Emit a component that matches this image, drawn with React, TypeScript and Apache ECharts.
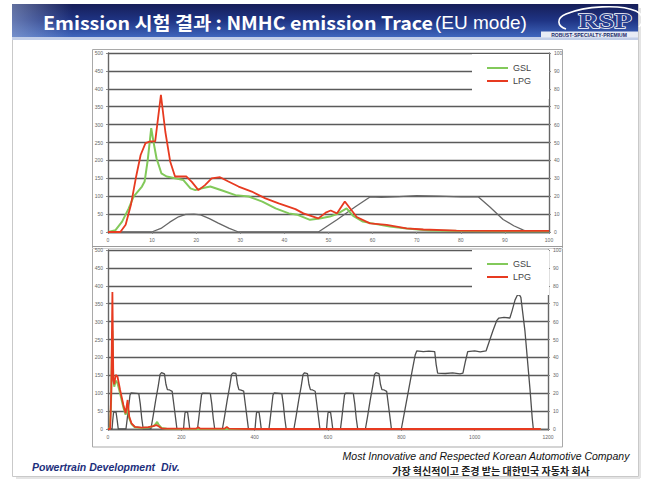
import React, { useEffect, useRef } from "react";
import * as echarts from "echarts";

// ---------- data ----------
// Top chart: first 100 s of the EU cycle. [time s, NMHC]
const TOP_GSL: [number, number][] = [
  [0, 0], [1.7, 5], [3.2, 29], [4.7, 66], [5.8, 99], [7.7, 127], [8.3, 141], [9.0, 200],
  [9.8, 290], [10.3, 253], [11, 206], [12.1, 164], [13.3, 155], [15.2, 150], [17.1, 145],
  [18.7, 122], [19.8, 117], [21.3, 122], [23.2, 127], [25.9, 116], [28.9, 103], [31.9, 99],
  [35, 85], [38, 66], [41, 52], [43, 48], [45.8, 34], [48, 38], [50.3, 43], [51.9, 50],
  [54.1, 66], [55.6, 45], [57.8, 29], [60.8, 22], [63.9, 15], [67.7, 10], [73, 4], [80, 3],
  [90, 2], [100, 2],
];
const TOP_LPG: [number, number][] = [
  [0, 0], [2.8, 0], [4, 20], [5.2, 76], [6.3, 150], [7.4, 215], [8.5, 248], [9.6, 253],
  [10.7, 253], [12, 383], [13, 280], [14.1, 197], [15.2, 155], [16.3, 155], [17.8, 155],
  [19, 140], [20.5, 117], [22, 131], [23.5, 150], [25.4, 153], [27.3, 141], [29.6, 127],
  [32.6, 113], [35.7, 94], [38.7, 80], [42.5, 64], [44.3, 52], [47.7, 38], [49.5, 55],
  [50.5, 60], [51.9, 52], [53.7, 85], [56.4, 42], [59.4, 24], [63.2, 20], [67.7, 10],
  [71.5, 7], [79, 4], [90, 3], [100, 3],
];
// vehicle speed (right axis)
const TOP_SPEED: [number, number][] = [
  [0, 0], [9.9, 0], [12, 2], [14, 5.5], [16, 8.5], [17.6, 9.8], [19.5, 10], [21, 9.6],
  [23, 7.5], [25, 5], [27.5, 2], [29.6, 0], [47.7, 0], [52, 7], [56, 14], [59.4, 19.6],
  [62, 19.4], [66, 19.8], [70, 20.3], [75, 20], [80, 19.6], [84, 19.6], [86.6, 14],
  [89.6, 7], [92, 3.5], [94.2, 1], [95.3, 0], [100, 0],
];

// Bottom chart: whole EU cycle (0 - 1180 s)
const BOTTOM_GSL: [number, number][] = [
  [0, 0], [5, 2], [8, 60], [10, 170], [12, 275], [14, 150], [17, 118], [21, 135], [26, 128],
  [33, 100], [42, 60], [48, 40], [53, 62], [58, 30], [64, 14], [73, 5], [92, 3], [110, 4],
  [124, 8], [130, 14], [134, 20], [138, 12], [146, 3], [160, 1], [200, 0], [1180, 0],
];
const BOTTOM_LPG: [number, number][] = [
  [0, 0], [6, 0], [9, 110], [12, 383], [14.5, 137], [17, 125], [21, 151], [26, 146],
  [33, 109], [42, 67], [48, 44], [53.5, 81], [58, 34], [64, 16], [73.5, 6], [92, 4],
  [110, 5], [123, 8], [132, 11], [140, 6], [146, 2], [160, 1], [240, 1], [246, 5], [252, 1],
  [318, 1], [324, 6], [330, 1], [400, 0], [1180, 0],
];
const BOTTOM_SPEED: [number, number][] = [
  [0, 0], [11, 0], [13, 5], [15, 9], [17, 9.6], [22, 9.3], [25, 5], [28, 0],
  [49, 0], [52, 5], [56, 12], [60, 19], [63, 20.2], [84, 19.8], [88, 14], [92, 6], [96, 0],
  [117, 0], [123, 7], [130, 16], [137, 24], [142, 30.5], [146, 31.5], [154, 30.8], [158, 25],
  [162, 22], [168, 21.8], [175, 21], [180, 13], [185, 5], [188, 0],
  [206, 0], [208, 5], [210, 9], [212, 9.5], [217, 9.4], [220, 5], [223, 0],
  [244, 0], [247, 5], [251, 12], [255, 19], [258, 20], [279, 19.9], [283, 14], [287, 6], [291, 0],
  [312, 0], [318, 7], [325, 16], [332, 24], [337, 30.5], [341, 31.3], [349, 31], [353, 25],
  [357, 22], [363, 21.7], [370, 21.2], [375, 13], [380, 5], [383, 0],
  [401, 0], [403, 5], [405, 9], [407, 9.6], [412, 9.3], [415, 5], [418, 0],
  [439, 0], [442, 5], [446, 12], [450, 19], [453, 20.1], [474, 19.8], [478, 14], [482, 6], [486, 0],
  [507, 0], [513, 7], [520, 16], [527, 24], [532, 30.5], [536, 31.4], [544, 30.9], [548, 25],
  [552, 22], [558, 21.8], [565, 21.1], [570, 13], [575, 5], [578, 0],
  [596, 0], [598, 5], [600, 9], [602, 9.5], [607, 9.3], [610, 5], [613, 0],
  [634, 0], [637, 5], [641, 12], [645, 19], [648, 20], [669, 19.9], [673, 14], [677, 6], [681, 0],
  [702, 0], [708, 7], [715, 16], [722, 24], [727, 30.5], [731, 31.5], [739, 30.9], [743, 25],
  [747, 22], [753, 21.8], [760, 21], [765, 13], [770, 5], [773, 0],
  [800, 0], [810, 11], [820, 22], [830, 33], [838, 41.5], [842, 43.6], [860, 43.2], [875, 43.5],
  [891, 43.2], [895, 36], [899, 31.2], [920, 31], [940, 31.3], [960, 30.8], [968, 31.2],
  [975, 38], [981, 43.2], [1000, 43.6], [1015, 43.1], [1031, 43.6], [1040, 49], [1050, 55],
  [1060, 60.5], [1066, 62], [1080, 62.4], [1096, 62], [1102, 66], [1110, 72], [1116, 74.6],
  [1122, 74.9], [1126, 73.5], [1137, 55], [1151, 22], [1157, 6], [1160, 0], [1180, 0],
];

const LEGEND_NAMES = ["GSL", "LPG"];
const TOP_X_RANGE = { min: 0, max: 100, interval: 10 };
const BOTTOM_X_RANGE = { min: 0, max: 1200, interval: 200 };
const LEFT_Y_RANGE = { min: 0, max: 500, interval: 50 };
const RIGHT_Y_RANGE = { min: 0, max: 100, interval: 10 };

const TITLE_BOLD = "Emission 시험 결과 : NMHC emission Trace";
const TITLE_LIGHT = "(EU mode)";
const FOOTER_LEFT = "Powertrain Development  Div.";
const FOOTER_EN = "Most Innovative and Respected Korean Automotive Company";
const FOOTER_KO = "가장 혁신적이고 존경 받는 대한민국 자동차 회사";
const LOGO_TEXT = "RSP";
const LOGO_SUB = "ROBUST·SPECIALTY·PREMIUM";

// ---------- styles ----------
const GSL_COLOR = "#82c95a";
const LPG_COLOR = "#e73a20";
const SPEED_COLOR = "#676767";
const GRID_COLOR = "#5a5a5a";
const SANS = "'Liberation Sans', Arial, sans-serif";
const NARROW = "'Liberation Sans Narrow', 'Liberation Sans', Arial, sans-serif";
const KR = "'Noto Sans CJK KR', 'Open Sans', sans-serif";

echarts.graphic.registerShape(
  "logo",
  echarts.graphic.extendPath(
    "M566,29 C557,26 556,18 566,14 C585,6 620,4 636,11 C644,15 644,22 639,27",
    {}
  )
);

const tickLabel = { fontSize: 5, color: "#666", fontFamily: SANS };
const plainNumber = (v: number) => String(v);

function xAxis(gridIndex: number, r: { min: number; max: number; interval: number }) {
  return {
    gridIndex,
    type: "value",
    min: r.min,
    max: r.max,
    interval: r.interval,
    axisLine: { show: true, onZero: false, lineStyle: { color: "#666", width: 1.4 } },
    axisTick: { show: true, length: 2, lineStyle: { color: "#888" } },
    axisLabel: { ...tickLabel, margin: 5, formatter: plainNumber },
    splitLine: { show: false },
  };
}

function yAxisLeft(gridIndex: number) {
  return {
    gridIndex,
    type: "value",
    position: "left",
    ...LEFT_Y_RANGE,
    axisLine: { show: true, lineStyle: { color: "#666", width: 1.4 } },
    axisTick: { show: true, length: 2, lineStyle: { color: "#888" } },
    axisLabel: { ...tickLabel, margin: 5, formatter: plainNumber },
    splitLine: { show: true, lineStyle: { color: GRID_COLOR, width: 1.4 } },
  };
}

function yAxisRight(gridIndex: number) {
  return {
    gridIndex,
    type: "value",
    position: "right",
    ...RIGHT_Y_RANGE,
    axisLine: { show: true, lineStyle: { color: "#666", width: 1.4 } },
    axisTick: { show: true, length: 2, lineStyle: { color: "#888" } },
    axisLabel: { ...tickLabel, margin: 5, formatter: plainNumber },
    splitLine: { show: false },
  };
}

function legend(top: number) {
  return {
    data: LEGEND_NAMES,
    orient: "vertical",
    left: 472,
    top,
    backgroundColor: "#ffffff",
    padding: [8, 18, 12, 15],
    itemGap: 1,
    itemWidth: 21,
    itemHeight: 2,
    icon: "rect",
    selectedMode: false,
    textStyle: { fontSize: 9, color: "#444", lineHeight: 12, fontFamily: NARROW },
  };
}

function lineSeries(
  name: string,
  data: [number, number][],
  xAxisIndex: number,
  yAxisIndex: number,
  color: string,
  width: number,
  z: number
) {
  return {
    name,
    type: "line",
    data,
    xAxisIndex,
    yAxisIndex,
    symbol: "none",
    showSymbol: false,
    silent: true,
    z,
    itemStyle: { color },
    lineStyle: { color, width },
  };
}

export default function App() {
  const ref = useRef<HTMLDivElement>(null);

  useEffect(() => {
    document.body.style.margin = "0";
    const el = ref.current;
    if (!el) return;
    const chart = echarts.init(el, null, { renderer: "svg" });

    const option: any = {
      animation: false,
      backgroundColor: "#ffffff",
      grid: [
        { left: 108, top: 53, width: 441, height: 179, containLabel: false, outerBoundsMode: "none" },
        { left: 108, top: 250, width: 440, height: 179, containLabel: false, outerBoundsMode: "none" },
      ],
      xAxis: [xAxis(0, TOP_X_RANGE), xAxis(1, BOTTOM_X_RANGE)],
      yAxis: [yAxisLeft(0), yAxisRight(0), yAxisLeft(1), yAxisRight(1)],
      legend: [legend(54), legend(250)],
      series: [
        lineSeries("Speed", TOP_SPEED, 0, 1, SPEED_COLOR, 1.3, 2),
        lineSeries("GSL", TOP_GSL, 0, 0, GSL_COLOR, 2, 3),
        lineSeries("LPG", TOP_LPG, 0, 0, LPG_COLOR, 1.8, 4),
        lineSeries("Speed", BOTTOM_SPEED, 1, 3, "#4f4f4f", 1.3, 2),
        lineSeries("GSL", BOTTOM_GSL, 1, 2, GSL_COLOR, 2, 3),
        lineSeries("LPG", BOTTOM_LPG, 1, 2, LPG_COLOR, 1.8, 4),
      ],
      graphic: [
        // slide outline
        { type: "rect", z: -10, shape: { x: 12.5, y: 4.5, width: 626, height: 472 }, style: { fill: "#ffffff", stroke: "#c9c9c9", lineWidth: 1 } },
        { type: "line", z: -10, shape: { x1: 640, y1: 8, x2: 640, y2: 478 }, style: { stroke: "#e4e4e4", lineWidth: 2 } },
        { type: "line", z: -10, shape: { x1: 16, y1: 478, x2: 640, y2: 478 }, style: { stroke: "#e4e4e4", lineWidth: 2 } },
        // header band
        {
          type: "rect",
          z: -5,
          shape: { x: 12, y: 4, width: 626, height: 33 },
          style: {
            fill: new echarts.graphic.LinearGradient(0, 0, 0, 1, [
              { offset: 0, color: "#161e58" },
              { offset: 0.5, color: "#1f3484" },
              { offset: 1, color: "#3f66bd" },
            ]),
          },
        },
        {
          type: "rect",
          z: -4,
          shape: { x: 12, y: 4, width: 60, height: 33 },
          style: {
            fill: new echarts.graphic.LinearGradient(0, 0, 1, 0, [
              { offset: 0, color: "rgba(160,178,215,0.55)" },
              { offset: 1, color: "rgba(160,178,215,0)" },
            ]),
          },
        },
        { type: "rect", z: -4, shape: { x: 12, y: 37, width: 626, height: 3 }, style: { fill: "#c3cfe8" } },
        // title
        {
          type: "text",
          z: 10,
          x: 43,
          y: 22,
          scaleX: 1.09,
          style: { text: TITLE_BOLD, fill: "#ffffff", font: `bold 18px ${KR}`, verticalAlign: "middle" },
        },
        {
          type: "text",
          z: 10,
          x: 435,
          y: 22,
          style: { text: TITLE_LIGHT, fill: "#ffffff", font: `19px ${SANS}`, verticalAlign: "middle" },
        },
        // logo
        { type: "logo", z: 10, x: 0, y: 0, style: { fill: "none", stroke: "#ffffff", lineWidth: 1.6 } },
        {
          type: "text",
          z: 10,
          x: 605,
          y: 21,
          scaleX: 1.35,
          style: {
            text: LOGO_TEXT,
            fill: "#2a3f8e",
            stroke: "#ffffff",
            lineWidth: 1.3,
            font: `bold 21px 'Liberation Serif', 'DejaVu Serif', serif`,
            align: "center",
            verticalAlign: "middle",
          },
        },
        { type: "rect", z: 9, shape: { x: 541, y: 31.5, width: 97, height: 6 }, style: { fill: "#e8ecf5" } },
        {
          type: "text",
          z: 10,
          x: 589,
          y: 34.7,
          style: { text: LOGO_SUB, fill: "#1c2a6a", font: `bold 5px ${NARROW}`, align: "center", verticalAlign: "middle" },
        },
        // chart frame
        { type: "rect", z: -3, shape: { x: 92.5, y: 49.5, width: 470, height: 397.5 }, style: { fill: "none", stroke: "#a9a9a9", lineWidth: 1 } },
        { type: "line", z: -3, shape: { x1: 92, y1: 246.5, x2: 563, y2: 246.5 }, style: { stroke: "#9a9a9a", lineWidth: 1 } },
        { type: "line", z: -3, shape: { x1: 92, y1: 248.5, x2: 563, y2: 248.5 }, style: { stroke: "#d2d2d2", lineWidth: 1 } },
        // footer
        {
          type: "text",
          z: 10,
          x: 32,
          y: 467,
          style: { text: FOOTER_LEFT, fill: "#1d2f7c", font: `italic bold 10.5px ${SANS}`, verticalAlign: "middle" },
        },
        {
          type: "text",
          z: 10,
          x: 486,
          y: 456,
          style: { text: FOOTER_EN, fill: "#111111", font: `italic 10.5px ${SANS}`, align: "center", verticalAlign: "middle" },
        },
        {
          type: "text",
          z: 10,
          x: 491,
          y: 470,
          style: { text: FOOTER_KO, fill: "#222222", font: `bold 10px ${KR}`, align: "center", verticalAlign: "middle" },
        },
      ],
    };

    chart.setOption(option);
    return () => chart.dispose();
  }, []);

  return <div ref={ref} style={{ position: "absolute", left: 0, top: 0, width: 651, height: 480 }} />;
}
